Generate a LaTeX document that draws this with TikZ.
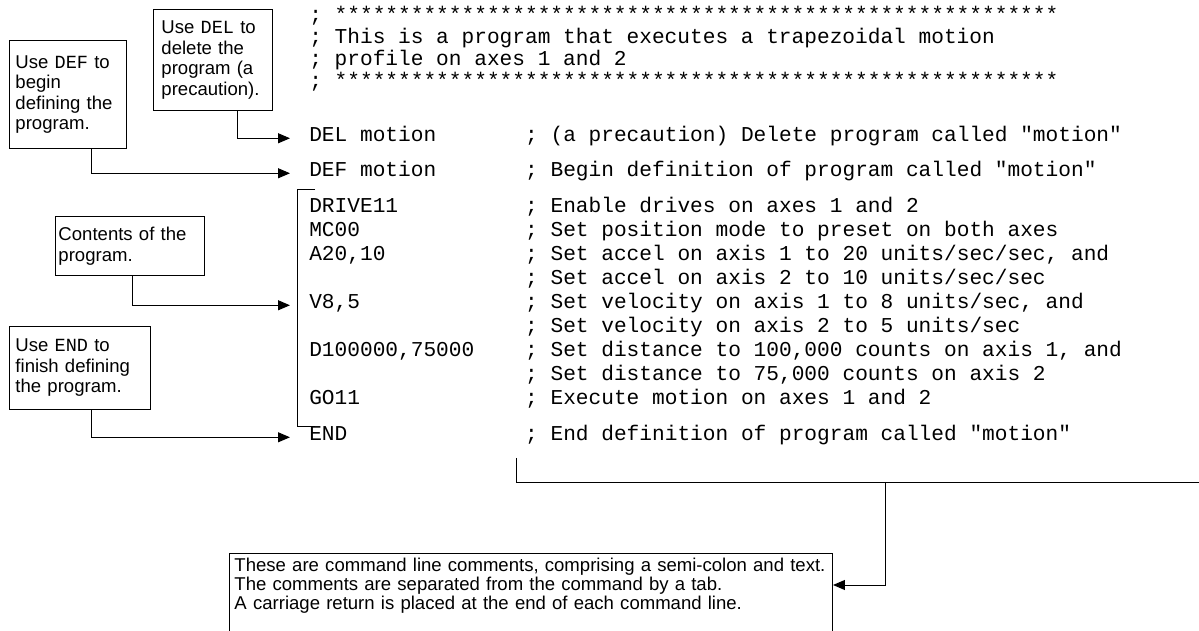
\documentclass[tikz,border=0pt]{standalone}
\usepackage{fontspec}
\setmainfont{Liberation Sans}
\setmonofont{Liberation Mono}
\usetikzlibrary{arrows.meta}

\begin{document}
\begin{tikzpicture}
        \tikzstyle{progline}=[font=\ttfamily\fontsize{15.05}{17}\selectfont, anchor=base west, inner sep=0pt]
        \tikzstyle{notebox}=[draw, line width=0.7pt, anchor=north west, align=left, inner ysep=0pt, font=\fontsize{13.2}{14.6}\selectfont]
        \tikzstyle{leader}=[line width=0.7pt, -{Triangle[length=3mm,width=2.5mm]}]
        \useasboundingbox (0,0) rectangle (29.975,15.775);
        \clip (0,0) rectangle (29.975,15.775);
        % notes on the left
        \node[notebox, inner xsep=0.15cm, text width=2.625cm, minimum height=2.7cm] (defnote) at (0.225,14.775) {Use \texttt{DEF} to\\begin\\defining the\\program.};
        \node[notebox, inner xsep=0.2cm, text width=2.575cm, minimum height=2.525cm] (delnote) at (3.825,15.55) {Use \texttt{DEL} to\\delete the\\program (a\\precaution).};
        \node[notebox, inner xsep=0.075cm, text width=3.575cm, minimum height=1.475cm] (contnote) at (1.375,10.375) {Contents of the\\program.};
        \node[notebox, inner xsep=0.15cm, text width=3.225cm, minimum height=2.075cm] (endnote) at (0.225,7.625) {Use \texttt{END} to\\finish defining\\the program.};
        % header comment
        \node[progline] (hdra) at (7.725,15.225) {; *********************************************************};
        \node[progline] (hdrb) at (7.725,14.675) {; This is a program that executes a trapezoidal motion};
        \node[progline] (hdrc) at (7.725,14.125) {; profile on axes 1 and 2};
        \node[progline] (hdrd) at (7.725,13.575) {; *********************************************************};
        % program lines
        \node[progline] (delcmd) at (7.725,12.225) {DEL motion};
        \node[progline] (delcmt) at (13.1225,12.225) {; (a precaution) Delete program called "motion"};
        \node[progline] (defcmd) at (7.725,11.35) {DEF motion};
        \node[progline] (defcmt) at (13.1225,11.35) {; Begin definition of program called "motion"};
        \node[progline] (drvcmd) at (7.725,10.45) {DRIVE11};
        \node[progline] (drvcmt) at (13.1225,10.45) {; Enable drives on axes 1 and 2};
        \node[progline] (mccmd) at (7.725,9.85) {MC00};
        \node[progline] (mccmt) at (13.1225,9.85) {; Set position mode to preset on both axes};
        \node[progline] (acmd) at (7.725,9.25) {A20,10};
        \node[progline] (acmta) at (13.1225,9.25) {; Set accel on axis 1 to 20 units/sec/sec, and};
        \node[progline] (acmtb) at (13.1225,8.65) {; Set accel on axis 2 to 10 units/sec/sec};
        \node[progline] (vcmd) at (7.725,8.05) {V8,5};
        \node[progline] (vcmta) at (13.1225,8.05) {; Set velocity on axis 1 to 8 units/sec, and};
        \node[progline] (vcmtb) at (13.1225,7.45) {; Set velocity on axis 2 to 5 units/sec};
        \node[progline] (dcmd) at (7.725,6.85) {D100000,75000};
        \node[progline] (dcmta) at (13.1225,6.85) {; Set distance to 100,000 counts on axis 1, and};
        \node[progline] (dcmtb) at (13.1225,6.25) {; Set distance to 75,000 counts on axis 2};
        \node[progline] (gocmd) at (7.725,5.65) {GO11};
        \node[progline] (gocmt) at (13.1225,5.65) {; Execute motion on axes 1 and 2};
        \node[progline] (endcmd) at (7.725,4.75) {END};
        \node[progline] (endcmt) at (13.1225,4.75) {; End definition of program called "motion"};
        % bracket round the program contents
        \draw[line width=0.7pt] (7.875,11.025) -| (7.425,5.125) -- (7.875,5.125);
        % leaders from the notes
        \draw[leader] ([xshift=0.6125cm]delnote.south) |- ([xshift=-0.475cm]delcmd.mid west);
        \draw[leader] ([xshift=0.5875cm]defnote.south) |- ([xshift=-0.475cm]defcmd.mid west);
        \draw[leader] ([xshift=0.0625cm]contnote.south) |- ([xshift=-0.475cm]vcmd.mid west);
        \draw[leader] ([xshift=0.2875cm]endnote.south) |- ([xshift=-0.475cm]endcmd.mid west);
        % comments note at the bottom
        \node[notebox, inner xsep=0.125cm, inner ysep=0.125cm, text width=14.825cm, text depth=2.2cm, font=\fontsize{13.2}{12.1}\selectfont] (comnote) at (5.725,1.95) {These are command line comments, comprising a semi-colon and text.\\The comments are separated from the command by a tab.\\A carriage return is placed at the end of each command line.};
        \coordinate (cmtop) at (12.9167,4.325);
        \coordinate (cmend) at (30.5,3.725);
        \coordinate (cmdrop) at (22.125,3.725);
        \draw[line width=0.7pt] (cmtop) |- (cmend);
        \draw[leader] (cmdrop) |- ([yshift=-0.8cm]comnote.north east);
\end{tikzpicture}
\end{document}
